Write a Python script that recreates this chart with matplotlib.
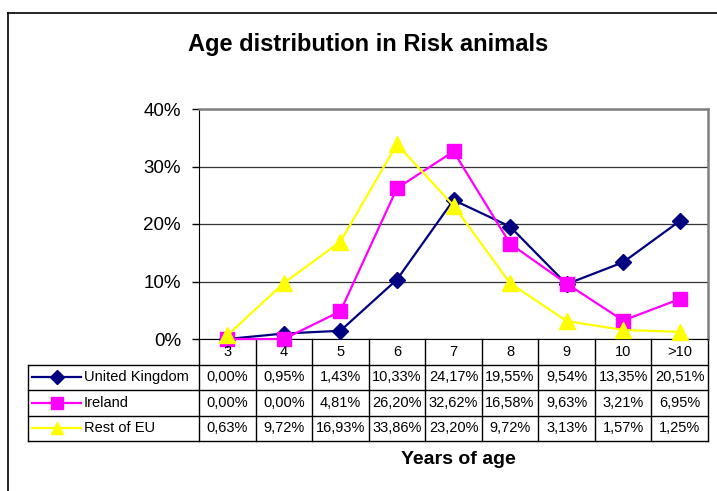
import matplotlib
matplotlib.use("Agg")
import matplotlib.pyplot as plt
from matplotlib import transforms
from matplotlib.lines import Line2D

plt.rcParams['font.family'] = ['Liberation Sans', 'DejaVu Sans']

ages = ["3", "4", "5", "6", "7", "8", "9", "10", ">10"]
uk = [0.00, 0.95, 1.43, 10.33, 24.17, 19.55, 9.54, 13.35, 20.51]
ireland = [0.00, 0.00, 4.81, 26.20, 32.62, 16.58, 9.63, 3.21, 6.95]
rest_eu = [0.63, 9.72, 16.93, 33.86, 23.20, 9.72, 3.13, 1.57, 1.25]

series_names = ["United Kingdom", "Ireland", "Rest of EU"]
series_values = [uk, ireland, rest_eu]
series_colors = ["#000080", "#FF00FF", "#FFFF00"]
series_markers = ["D", "s", "^"]
series_ms = [8, 10, 11]

y_ticks = [0, 10, 20, 30, 40]

W, H = 717, 491
fig = plt.figure(figsize=(W / 100, H / 100), dpi=100)
fig.patch.set_facecolor("white")

# pixel layout of plot area
px_left, px_right, px_top, px_bottom = 199, 708, 109, 339
ax = fig.add_axes([px_left / W, 1 - px_bottom / H,
                   (px_right - px_left) / W, (px_bottom - px_top) / H])

x = list(range(len(ages)))
for name, vals, col, mk, ms in zip(series_names, series_values,
                                   series_colors, series_markers, series_ms):
    ax.plot(x, vals, color=col, lw=1.6, marker=mk, ms=ms,
            markeredgecolor=col, clip_on=False, zorder=3)

ax.set_xlim(-0.5, len(ages) - 0.5)
ax.set_ylim(0, 40)
ax.set_yticks(y_ticks)
ax.set_yticklabels([f"{t}%" for t in y_ticks], fontsize=13.5)
ax.tick_params(axis="y", direction="out", length=5, width=1, pad=8, color="black")
ax.set_xticks([])
ax.grid(axis="y", color="#333333", lw=0.9)
ax.set_axisbelow(True)
for side in ("top", "right"):
    ax.spines[side].set_color("#808080")
    ax.spines[side].set_linewidth(1.8)
ax.spines["left"].set_color("black")
ax.spines["bottom"].set_color("black")

# data table below the plot
plot_h = px_bottom - px_top
row_h = 25.5 / plot_h
n_cols = len(ages)
legend_left = (28 - px_left) / (px_right - px_left)
tr = transforms.blended_transform_factory(ax.transData, ax.transAxes)
lkw = dict(color="black", lw=1.0, clip_on=False, transform=ax.transAxes)

bottom_y = -row_h * 4
# horizontal lines
for r in range(1, 5):
    yy = -row_h * r
    ax.add_line(Line2D([legend_left, 1], [yy, yy], **lkw))
# vertical lines
ax.add_line(Line2D([legend_left, legend_left], [-row_h, bottom_y], **lkw))
for c in range(n_cols + 1):
    xx = c / n_cols
    ax.add_line(Line2D([xx, xx], [0, bottom_y], **lkw))

# header row
for i, lab in enumerate(ages):
    ax.text(i, -row_h * 0.5, lab, transform=tr, ha="center", va="center",
            fontsize=10.5)

# data rows
for r, (name, vals, col, mk, ms) in enumerate(zip(series_names, series_values,
                                                  series_colors, series_markers,
                                                  series_ms)):
    yc = -row_h * (r + 1.5)
    for i, v in enumerate(vals):
        ax.text(i, yc, f"{v:.2f}%".replace(".", ","), transform=tr,
                ha="center", va="center", fontsize=10.5)
    kx0 = (32 - px_left) / (px_right - px_left)
    kx1 = (81 - px_left) / (px_right - px_left)
    ax.plot([kx0, kx1], [yc, yc], color=col, lw=1.6, transform=ax.transAxes,
            clip_on=False)
    ax.plot([(kx0 + kx1) / 2], [yc], color=col, marker=mk, ms=ms * 0.85,
            markeredgecolor=col, transform=ax.transAxes, clip_on=False)
    ax.text((84 - px_left) / (px_right - px_left), yc, name,
            transform=ax.transAxes, ha="left", va="center", fontsize=10.5)

# titles
fig.text(368 / W, 1 - 45 / H, "Age distribution in Risk animals",
         ha="center", va="center", fontsize=17, fontweight="bold")
fig.text(458 / W, 1 - 460 / H, "Years of age",
         ha="center", va="center", fontsize=14, fontweight="bold")

# outer chart frame (only left and top edges visible)
fig.add_artist(Line2D([7.5 / W, 7.5 / W], [0, 1 - 13 / H], color="black",
                      lw=1.2, transform=fig.transFigure))
fig.add_artist(Line2D([7.5 / W, 1], [1 - 13 / H, 1 - 13 / H], color="black",
                      lw=1.2, transform=fig.transFigure))

fig.savefig("out.png", dpi=100, facecolor="white")
